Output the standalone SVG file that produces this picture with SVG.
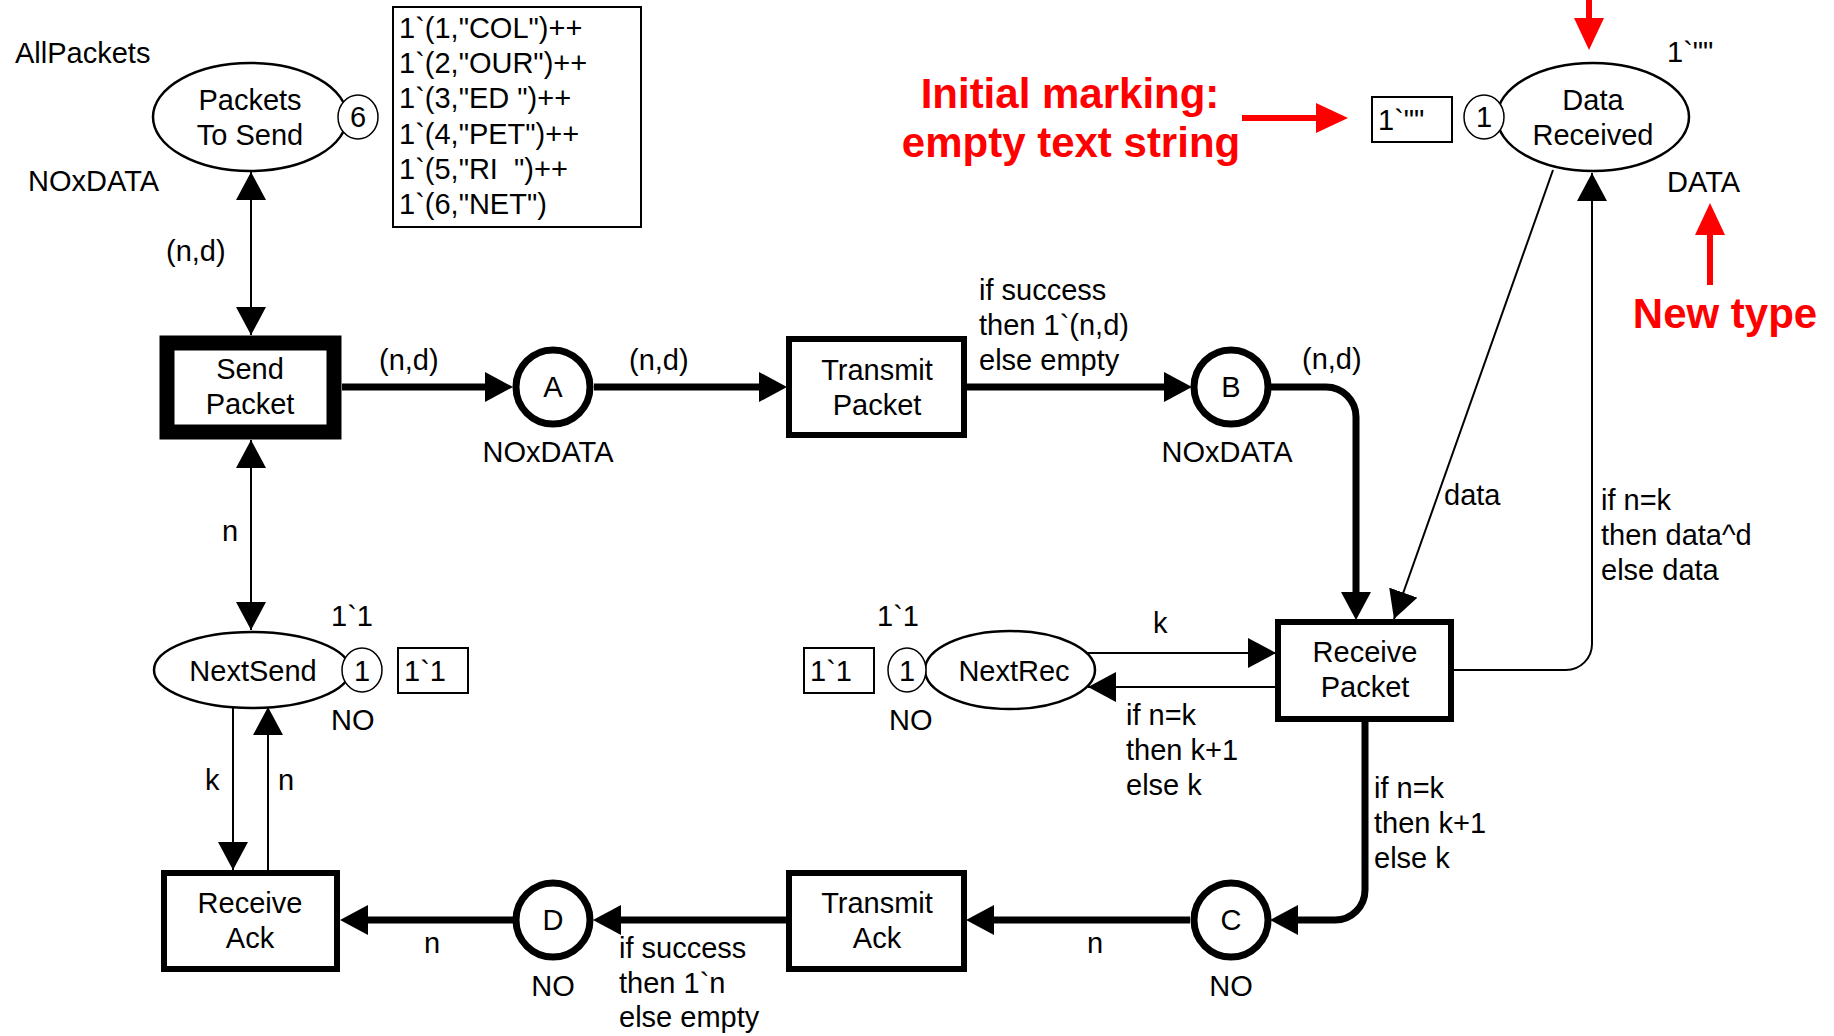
<svg xmlns="http://www.w3.org/2000/svg" width="1834" height="1036" viewBox="0 0 1834 1036">
<defs>
<style>
text{font-family:"Liberation Sans",Arial,sans-serif;font-size:29px;fill:#000}
.c{text-anchor:middle}
.red{fill:#ff0000;font-weight:bold;font-size:42px}
.pl{fill:#fff;stroke:#000;stroke-width:2.5}
.plT{fill:#fff;stroke:#000;stroke-width:7}
.tok{fill:#fff;stroke:#000;stroke-width:1.5}
.mk{fill:#fff;stroke:#000;stroke-width:2}
.tr{fill:#fff;stroke:#000;stroke-width:6}
.thin{fill:none;stroke:#000;stroke-width:2}
.thick{fill:none;stroke:#000;stroke-width:7}
.rl{fill:none;stroke:#ff0000;stroke-width:6}
</style>
<marker id="arr" viewBox="0 0 28 30" refX="28" refY="15" markerWidth="28" markerHeight="30" markerUnits="userSpaceOnUse" orient="auto-start-reverse"><path d="M0,0 L28,15 L0,30 z" fill="#000"/></marker>
<marker id="arrT" viewBox="0 0 28 30" refX="19" refY="15" markerWidth="28" markerHeight="30" markerUnits="userSpaceOnUse" orient="auto-start-reverse"><path d="M0,0 L28,15 L0,30 z" fill="#000"/></marker>
<marker id="arrR" viewBox="0 0 32 30" refX="24" refY="15" markerWidth="32" markerHeight="30" markerUnits="userSpaceOnUse" orient="auto"><path d="M0,0 L32,15 L0,30 z" fill="#ff0000"/></marker>
</defs>
<rect width="1834" height="1036" fill="#fff"/>

<g id="connectors">
<path class="thin" d="M251,172 L251,335" marker-start="url(#arr)" marker-end="url(#arr)"/>
<path class="thick" d="M342,387 L504,387" marker-end="url(#arrT)"/>
<path class="thick" d="M594,387 L778,387" marker-end="url(#arrT)"/>
<path class="thick" d="M967,387 L1183,387" marker-end="url(#arrT)"/>
<path class="thick" d="M1271,387 L1326,387 A30,30 0 0 1 1356,417 L1356,611" marker-end="url(#arrT)"/>
<path class="thin" d="M1553,170 L1394,619" marker-end="url(#arr)"/>
<path class="thin" d="M1454,670 L1566,670 A26,26 0 0 0 1592,644 L1592,173" marker-end="url(#arr)"/>
<path class="thin" d="M251,440 L251,630" marker-start="url(#arr)" marker-end="url(#arr)"/>
<path class="thin" d="M233,706 L233,870" marker-end="url(#arr)"/>
<path class="thin" d="M268,870 L268,707" marker-end="url(#arr)"/>
<path class="thin" d="M1087,653 L1276,653" marker-end="url(#arr)"/>
<path class="thin" d="M1276,687 L1088,687" marker-end="url(#arr)"/>
<path class="thick" d="M1365,722 L1365,890 A30,30 0 0 1 1335,920 L1279,920" marker-end="url(#arrT)"/>
<path class="thick" d="M1190,920 L975,920" marker-end="url(#arrT)"/>
<path class="thick" d="M787,920 L602,920" marker-end="url(#arrT)"/>
<path class="thick" d="M513,920 L349,920" marker-end="url(#arrT)"/>
<text x="166" y="261">(n,d)</text>
<text x="379" y="370">(n,d)</text>
<text x="629" y="370">(n,d)</text>
<text x="979" y="300">if success</text>
<text x="979" y="335">then 1`(n,d)</text>
<text x="979" y="370">else empty</text>
<text x="1302" y="369">(n,d)</text>
<text x="1444" y="505">data</text>
<text x="1601" y="510">if n=k</text>
<text x="1601" y="545">then data^d</text>
<text x="1601" y="580">else data</text>
<text x="222" y="541">n</text>
<text x="205" y="790">k</text>
<text x="278" y="790">n</text>
<text x="1153" y="633">k</text>
<text x="1126" y="725">if n=k</text>
<text x="1126" y="760">then k+1</text>
<text x="1126" y="795">else k</text>
<text x="1374" y="798">if n=k</text>
<text x="1374" y="833">then k+1</text>
<text x="1374" y="868">else k</text>
<text x="1087" y="953">n</text>
<text x="424" y="953">n</text>
<text x="619" y="958">if success</text>
<text x="619" y="993">then 1`n</text>
<text x="619" y="1027">else empty</text>
</g>

<g id="PacketsToSend">
<text x="15" y="63">AllPackets</text>
<ellipse class="pl" cx="250" cy="117" rx="97" ry="54"/>
<text class="c" x="250" y="110">Packets</text>
<text class="c" x="250" y="145">To Send</text>
<ellipse class="tok" cx="358" cy="117" rx="20" ry="22"/>
<text class="c" x="358" y="127">6</text>
<text x="28" y="191">NOxDATA</text>
<rect class="mk" x="393" y="7" width="248" height="220"/>
<text x="399" y="38">1`(1,"COL")++</text>
<text x="399" y="73">1`(2,"OUR")++</text>
<text x="399" y="108" style="white-space:pre">1`(3,"ED ")++</text>
<text x="399" y="144">1`(4,"PET")++</text>
<text x="399" y="179" style="white-space:pre">1`(5,"RI  ")++</text>
<text x="399" y="214">1`(6,"NET")</text>
</g>

<g id="SendPacket">
<rect x="167" y="343" width="167" height="89" fill="#fff" stroke="#000" stroke-width="15"/>
<text class="c" x="250" y="379">Send</text>
<text class="c" x="250" y="414">Packet</text>
</g>

<g id="A">
<circle class="plT" cx="553" cy="387" r="37"/>
<text class="c" x="553" y="397">A</text>
<text class="c" x="548" y="462">NOxDATA</text>
</g>

<g id="TransmitPacket">
<rect class="tr" x="789" y="339" width="175" height="96"/>
<text class="c" x="877" y="380">Transmit</text>
<text class="c" x="877" y="415">Packet</text>
</g>

<g id="B">
<circle class="plT" cx="1231" cy="387" r="37"/>
<text class="c" x="1231" y="397">B</text>
<text class="c" x="1227" y="462">NOxDATA</text>
</g>

<g id="DataReceived">
<ellipse class="pl" cx="1593" cy="117" rx="96" ry="54"/>
<text class="c" x="1593" y="110">Data</text>
<text class="c" x="1593" y="145">Received</text>
<ellipse class="tok" cx="1484" cy="117" rx="20" ry="22"/>
<text class="c" x="1484" y="127">1</text>
<rect class="mk" x="1372" y="97" width="80" height="45"/>
<text x="1378" y="130">1`""</text>
<text x="1667" y="62">1`""</text>
<text x="1667" y="192">DATA</text>
</g>

<g id="ReceivePacket">
<rect class="tr" x="1278" y="622" width="173" height="97"/>
<text class="c" x="1365" y="662">Receive</text>
<text class="c" x="1365" y="697">Packet</text>
</g>

<g id="NextRec">
<ellipse class="pl" cx="1010" cy="670" rx="85" ry="39"/>
<text class="c" x="1014" y="681">NextRec</text>
<ellipse class="tok" cx="907" cy="670" rx="19" ry="22"/>
<text class="c" x="907" y="681">1</text>
<rect class="mk" x="804" y="648" width="70" height="45"/>
<text x="810" y="681">1`1</text>
<text x="877" y="626">1`1</text>
<text x="889" y="730">NO</text>
</g>

<g id="NextSend">
<ellipse class="pl" cx="252" cy="670" rx="98" ry="38"/>
<text class="c" x="253" y="681">NextSend</text>
<ellipse class="tok" cx="362" cy="670" rx="20" ry="22"/>
<text class="c" x="362" y="681">1</text>
<rect class="mk" x="398" y="648" width="70" height="45"/>
<text x="404" y="681">1`1</text>
<text x="331" y="626">1`1</text>
<text x="331" y="730">NO</text>
</g>

<g id="ReceiveAck">
<rect class="tr" x="164" y="873" width="173" height="96"/>
<text class="c" x="250" y="913">Receive</text>
<text class="c" x="250" y="948">Ack</text>
</g>

<g id="D">
<circle class="plT" cx="553" cy="920" r="37"/>
<text class="c" x="553" y="930">D</text>
<text class="c" x="553" y="996">NO</text>
</g>

<g id="TransmitAck">
<rect class="tr" x="789" y="873" width="175" height="96"/>
<text class="c" x="877" y="913">Transmit</text>
<text class="c" x="877" y="948">Ack</text>
</g>

<g id="C">
<circle class="plT" cx="1231" cy="920" r="37"/>
<text class="c" x="1231" y="930">C</text>
<text class="c" x="1231" y="996">NO</text>
</g>

<g id="annotations">
<text class="red c" x="1070" y="108">Initial marking:</text>
<text class="red c" x="1071" y="157">empty text string</text>
<text class="red c" x="1725" y="328">New type</text>
<path class="rl" d="M1589,0 L1589,42" marker-end="url(#arrR)"/>
<path class="rl" d="M1242,118 L1340,118" marker-end="url(#arrR)"/>
<path class="rl" d="M1710,285 L1710,211" marker-end="url(#arrR)"/>
</g>
</svg>
